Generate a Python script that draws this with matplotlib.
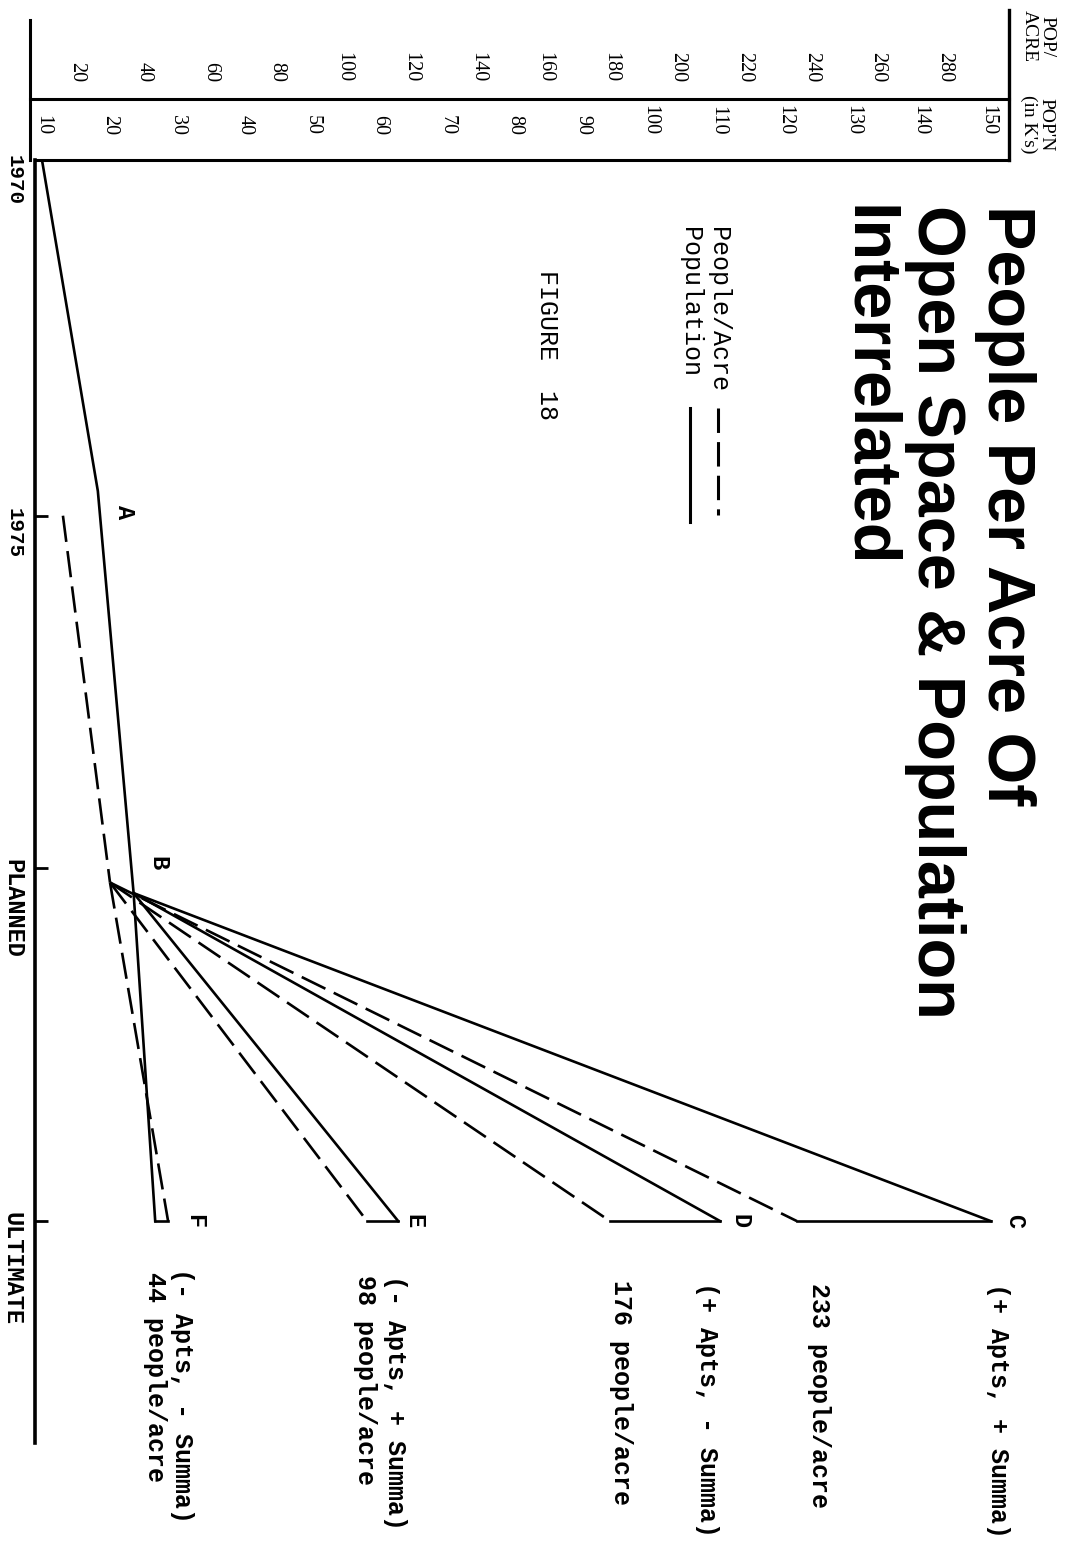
import matplotlib
matplotlib.use("Agg")
import matplotlib.pyplot as plt
from matplotlib.lines import Line2D

W, H = 1085, 1547

# time stations (drawn top to bottom, the page is turned on its side)
stages = ["1970", "1975", "PLANNED", "ULTIMATE"]
stage_pos = [0, 1, 2, 3]

# population in thousands (solid): 1970 -> A -> B -> F
pop_t = [0.0, 0.93, 2.07, 3.0]
pop_vals = [10, 18.2, 23.5, 26.7]
pop_b, pop_b_t = 23.5, 2.07

# people per acre (dashed): 1975 -> B
ppa_t = [1.0, 2.04]
ppa_vals = [15.8, 29.9]
ppa_b, ppa_b_t = 29.9, 2.04

# the four ultimate cases
cases = ["C", "D", "E", "F"]
pop_final = [150.5, 110.4, 62.7, 26.7]
ppa_final = [235.7, 179.7, 106.9, 47.3]
case_notes = ["(+ Apts, + Summa)", "(+ Apts, - Summa)",
              "(- Apts, + Summa)", "(- Apts, - Summa)"]
case_density = ["233 people/acre", "176 people/acre",
                "98 people/acre", "44 people/acre"]

pop_ticks = list(range(10, 151, 10))
ppa_ticks = list(range(20, 281, 20))

POP_LIM = (8.89, 153.19)
PPA_LIM = (7.43, 299.22)


def pop_to_ppa(p):
    return PPA_LIM[0] + (p - POP_LIM[0]) * (PPA_LIM[1] - PPA_LIM[0]) / (POP_LIM[1] - POP_LIM[0])


fig = plt.figure(figsize=(W / 100, H / 100), dpi=100)
x0, x1, ytop, ybot = 35, 1009, 160, 1443
ax = fig.add_axes([x0 / W, 1 - ybot / H, (x1 - x0) / W, (ybot - ytop) / H])
ax2 = ax.twiny()

ax.set_xlim(*POP_LIM)
ax2.set_xlim(*PPA_LIM)
ax.set_ylim(3.629, -0.0085)

lw = 1.9
dash = (10, 3.5)

# population lines
ax.plot(pop_vals, pop_t, color="k", lw=lw)
for pf in pop_final[:3]:
    ax.plot([pop_b, pf], [pop_b_t, 3], color="k", lw=lw)

# people per acre lines
ax2.plot(ppa_vals, ppa_t, color="k", lw=lw, dashes=dash)
for vf in ppa_final:
    ax2.plot([ppa_b, vf], [ppa_b_t, 3], color="k", lw=lw, dashes=dash)

# closing strokes at ULTIMATE
for vf, pf in zip(ppa_final, pop_final):
    ax2.plot([vf, pop_to_ppa(pf)], [3, 3], color="k", lw=lw)

# spines
for s in ["right", "bottom"]:
    ax.spines[s].set_visible(False)
for s in ax2.spines.values():
    s.set_visible(False)
ax.spines["left"].set_linewidth(2.6)
ax.spines["top"].set_linewidth(2.2)

# time ticks
ax.set_yticks(stage_pos)
ax.set_yticklabels(stages, family="Liberation Mono", fontweight="bold")
ax.tick_params(axis="y", direction="in", length=9, width=2, pad=8, labelrotation=-90)
for lab, size in zip(ax.get_yticklabels(), [15, 15, 17, 17]):
    lab.set_fontsize(size)
ax.yaxis.get_major_ticks()[0].tick1line.set_visible(False)

# value scales on top
ax.xaxis.tick_top()
ax.set_xticks(pop_ticks)
ax.set_xticklabels([str(v) for v in pop_ticks], family="Liberation Serif", fontsize=14.5)
ax.tick_params(axis="x", length=0, pad=18, labelrotation=-90)

ax2.set_xticks(ppa_ticks)
ax2.set_xticklabels([str(v) for v in ppa_ticks], family="Liberation Serif", fontsize=14.5)
ax2.tick_params(axis="x", length=0, pad=56, labelrotation=-90)

# header box lines
y99 = 1 + (ytop - 99) / (ybot - ytop)
yl = 1 + (ytop - 20) / (ybot - ytop)
yr = 1 + (ytop - 10) / (ybot - ytop)
kw = dict(transform=ax.transAxes, clip_on=False, color="k")
ax.plot([-0.005, 1], [y99, y99], lw=2.2, **kw)
ax.plot([-0.005, -0.005], [1, yl], lw=2.2, **kw)
ax.plot([1, 1], [1, yr], lw=2.4, **kw)


def ftext(x, y, s, **k):
    k.setdefault("ha", "center")
    k.setdefault("va", "top")
    return fig.text(x / W, 1 - y / H, s, rotation=-90, **k)


serif = dict(family="Liberation Serif", fontsize=14)
ftext(1038, 10, "POP/\nACRE", linespacing=1.0, **serif)
ftext(1037, 95, "POP'N\n(in K's)", linespacing=1.0, **serif)

# title
tkw = dict(family="Liberation Sans", fontweight="bold", fontsize=48)
ftext(1005, 205, "People Per Acre Of", **tkw)
ftext(935, 205, "Open Space & Population", **tkw)
ftext(867, 205, "Interrelated", **tkw)

# legend
mono = dict(family="Liberation Mono", fontsize=18)
ftext(718, 227, "People/Acre", **mono)
ftext(690, 227, "Population", **mono)
fig.add_artist(Line2D([718 / W, 718 / W], [1 - 408 / H, 1 - 515 / H], color="k",
                      lw=2.2, dashes=(8, 3), transform=fig.transFigure))
fig.add_artist(Line2D([690 / W, 690 / W], [1 - 408 / H, 1 - 522 / H], color="k",
                      lw=2.2, transform=fig.transFigure))
ftext(547, 270, "FIGURE  18", **mono)

# point letters
lkw = dict(family="Liberation Mono", fontweight="bold", fontsize=17, ha="center", va="center",
           rotation=-90, clip_on=False)
ax.text(22.2, 0.99, "A", **lkw)
ax.text(27.1, 1.985, "B", **lkw)
for c, xp in zip(cases, [1015, 740, 414, 195]):
    ax.text((xp + 25) / 6.75, 3.0, c, **lkw)

# case notes
bold = dict(family="Liberation Mono", fontweight="bold", fontsize=18)
for note, dens, xn, yn, xd, yd in zip(case_notes, case_density,
                                       [998, 707, 395, 182], [1283, 1282, 1275, 1268],
                                       [819, 621, 365, 155], [1283, 1280, 1275, 1272]):
    ftext(xn, yn, note, **bold)
    ftext(xd, yd, dens, **bold)

fig.savefig("out.png", dpi=100, facecolor="white")
